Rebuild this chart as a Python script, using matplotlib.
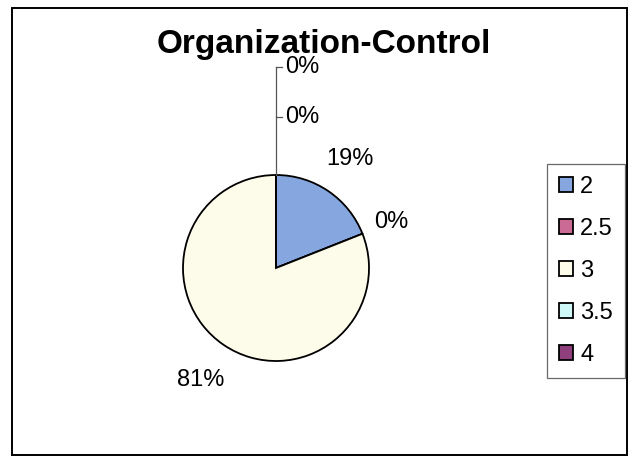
import numpy as np
import matplotlib.pyplot as plt
from matplotlib.patches import Rectangle

plt.rcParams['font.family'] = ['Liberation Sans', 'DejaVu Sans']

# rating categories and their share of responses (%)
categories = ['2', '2.5', '3', '3.5', '4']
percents = [19, 0, 81, 0, 0]
colors = ['#86a6e0', '#cc6a96', '#fdfcea', '#cff8f8', '#8e3f7c']

W, H = 633, 461
fig = plt.figure(figsize=(W / 100, H / 100), dpi=100)
ax = fig.add_axes([0, 0, 1, 1])

cx, cy, R = 276, H - 268, 93
wedges, _ = ax.pie(percents, colors=colors, startangle=90, counterclock=False,
                   center=(cx, cy), radius=R, frame=True,
                   wedgeprops=dict(edgecolor='black', linewidth=1.3))
ax.set_xlim(0, W)
ax.set_ylim(0, H)
ax.set_axis_off()

# percentage labels, zero slices at the top get a leader line
top_zero = [1.62, 2.16]
k = 0
for w, p in zip(wedges, percents):
    mid = np.deg2rad((w.theta1 + w.theta2) / 2)
    label = f"{p:.0f}%"
    if p > 0:
        d = 1.42 * R if p < 50 else 1.45 * R
        ax.text(cx + d * np.cos(mid), cy + d * np.sin(mid), label,
                ha='center', va='center', fontsize=17)
    elif abs(np.cos(mid)) < 1e-6:
        y = cy + top_zero[k] * R
        ax.plot([cx, cx + 6], [y, y], color='#555555', lw=0.9)
        ax.text(cx + 9, y, label, ha='left', va='center', fontsize=17)
        k += 1
    else:
        d = 1.33 * R
        ax.text(cx + d * np.cos(mid), cy + d * np.sin(mid), label,
                ha='center', va='center', fontsize=17)
ax.plot([cx, cx], [cy + R, cy + top_zero[-1] * R], color='#555555', lw=0.9)

ax.text(324, H - 45, 'Organization-Control', ha='center', va='center',
        fontsize=24, fontweight='bold')

ax.add_patch(Rectangle((12, H - 455), 615, 447, fill=False,
                       edgecolor='black', linewidth=1.4))

leg = fig.legend(wedges, categories, loc='upper left',
                 bbox_to_anchor=(547 / W, 1 - 164 / H), fontsize=17,
                 frameon=True, fancybox=False, shadow=False,
                 handlelength=0.6, handleheight=0.6, handletextpad=0.3,
                 labelspacing=0.85, borderpad=0.5, borderaxespad=0)
leg.get_frame().set_edgecolor('#444444')
leg.get_frame().set_linewidth(0.9)

plt.savefig('out.png', dpi=100)
